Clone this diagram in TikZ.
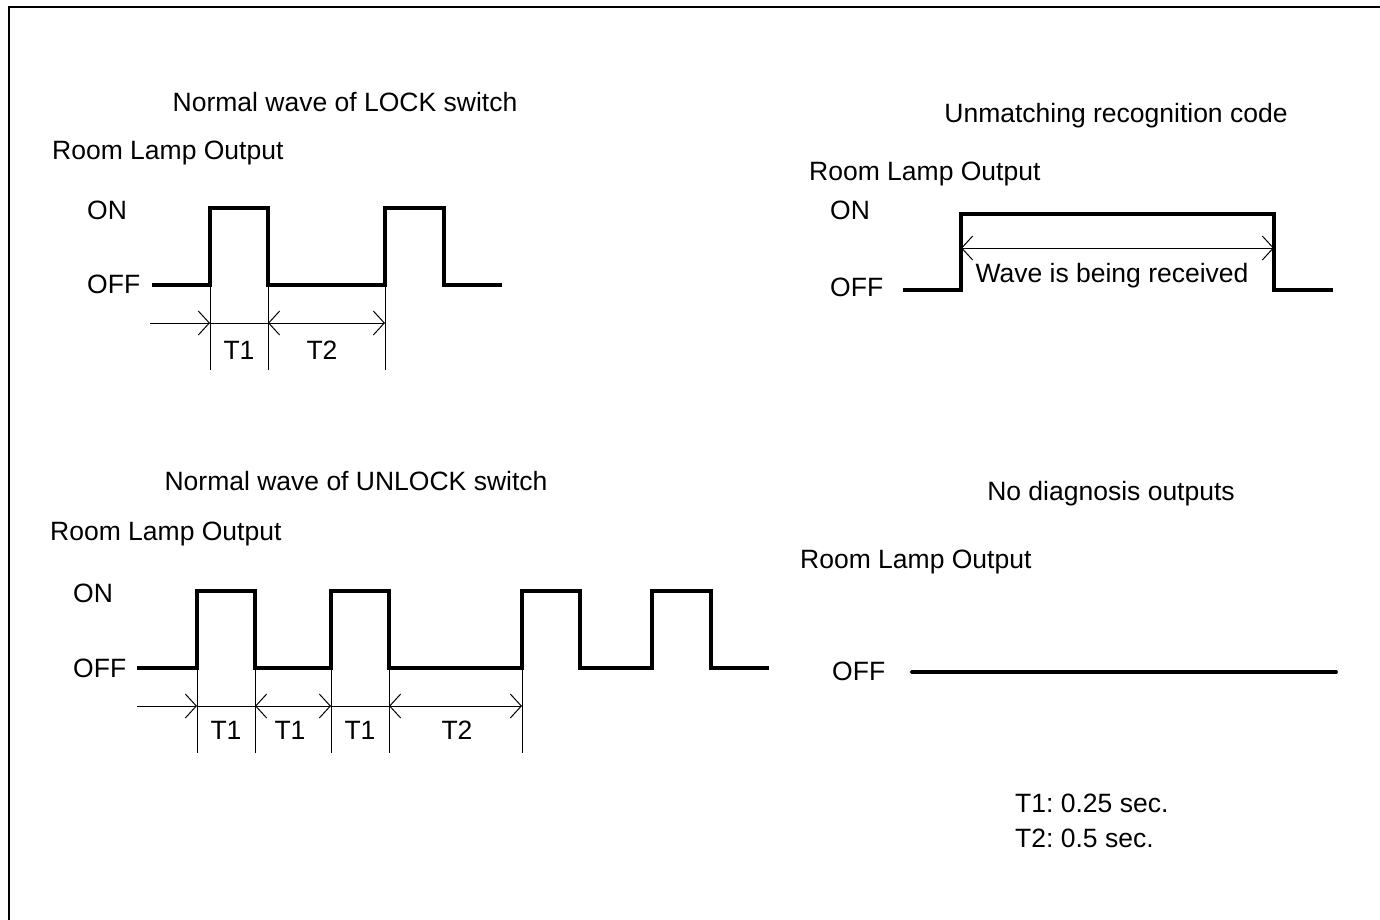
\documentclass[tikz,border=0pt]{standalone}
\usepackage{fontspec}
\setmainfont{Liberation Sans}
\usetikzlibrary{arrows.meta}
\frenchspacing
\begin{document}
\begin{tikzpicture}[x=1pt,y=-1pt,
  txt/.style={inner sep=0pt,font=\fontsize{26.5}{30}\selectfont},
  lbl/.style={txt,anchor=base west},
  ctr/.style={txt,anchor=base},
  wave/.style={line width=3.8pt,line join=miter},
  dimline/.style={line width=1pt},
  ext/.style={line width=1pt},
  tip/.style={arrows={-{Straight Barb[length=11pt,width=24pt]}}},
  dtip/.style={arrows={{Straight Barb[length=11pt,width=24pt]}-{Straight Barb[length=11pt,width=24pt]}}}]
\useasboundingbox (0,0) rectangle (1380,919);
\begin{scope}
\clip (0,0) rectangle (1380,919);
\draw[line width=2.5pt] (9,7) rectangle (1400,940);
\end{scope}

% ---------- Panel 1: LOCK ----------
\node[ctr] (t1) at (345,111.5) {Normal wave of LOCK switch};
\node[lbl] (r1) at (52,159) {Room Lamp Output};
\node[lbl] (on1) at (87,219) {ON};
\node[lbl] (off1) at (87,293) {OFF};
\draw[wave] (152,285) -- (210,285) -- (210,208) -- (268,208) -- (268,285)
  -- (385,285) -- (385,208) -- (444,208) -- (444,285) -- (502,285);
\coordinate (a0) at (150,323);
\coordinate (a1) at (210,323);
\coordinate (a2) at (268,323);
\coordinate (a3) at (385,323);
\foreach \x in {210,268,385} \draw[ext] (\x,286) -- (\x,370);
\draw[dimline,tip] (a0) -- (a1);
\draw[dimline] (a1) -- (a2);
\draw[dimline,dtip] (a2) -- (a3);
\node[ctr] (l11) at (239,359.5) {T1};
\node[ctr] (l12) at (322,359.5) {T2};

% ---------- Panel 2: UNLOCK ----------
\node[ctr] (t2) at (356,490.5) {Normal wave of UNLOCK switch};
\node[lbl] (r2) at (50,540.5) {Room Lamp Output};
\node[lbl] (on2) at (73,602.5) {ON};
\node[lbl] (off2) at (73,677.5) {OFF};
\draw[wave] (137,668) -- (197,668) -- (197,591) -- (255,591) -- (255,668)
  -- (331,668) -- (331,591) -- (389,591) -- (389,668)
  -- (522,668) -- (522,591) -- (580,591) -- (580,668)
  -- (652,668) -- (652,591) -- (711,591) -- (711,668) -- (769,668);
\coordinate (b0) at (137,706);
\coordinate (b1) at (197,706);
\coordinate (b2) at (255,706);
\coordinate (b3) at (331,706);
\coordinate (b4) at (389,706);
\coordinate (b5) at (522,706);
\foreach \x in {197,255,331,389,522} \draw[ext] (\x,669) -- (\x,753);
\draw[dimline,tip] (b0) -- (b1);
\draw[dimline] (b1) -- (b2);
\draw[dimline,dtip] (b2) -- (b3);
\draw[dimline] (b3) -- (b4);
\draw[dimline,dtip] (b4) -- (b5);
\node[ctr] (l21) at (226,739.5) {T1};
\node[ctr] (l22) at (290,739.5) {T1};
\node[ctr] (l23) at (360,739.5) {T1};
\node[ctr] (l24) at (457,739.5) {T2};

% ---------- Panel 3: Unmatching ----------
\node[ctr] (t3) at (1116,122.5) {Unmatching recognition code};
\node[lbl] (r3) at (809,180.5) {Room Lamp Output};
\node[lbl] (on3) at (830,219.5) {ON};
\node[lbl] (off3) at (830,296.5) {OFF};
\draw[wave] (903,290) -- (961,290) -- (961,214) -- (1274,214) -- (1274,290) -- (1333,290);
\coordinate (c0) at (961,248);
\coordinate (c1) at (1274,248);
\draw[dimline,dtip] (c0) -- (c1);
\node[ctr] (w3) at (1112,282.5) {Wave is being received};

% ---------- Panel 4: No diagnosis ----------
\node[ctr] (t4) at (1111,500.5) {No diagnosis outputs};
\node[lbl] (r4) at (800,568.5) {Room Lamp Output};
\node[lbl] (off4) at (832,680.5) {OFF};
\draw[wave,line cap=round] (912,672) -- (1336,672);

\node[lbl] (n1) at (1015,812.5) {T1: 0.25 sec.};
\node[lbl] (n2) at (1015,847.5) {T2: 0.5 sec.};
\end{tikzpicture}
\end{document}
